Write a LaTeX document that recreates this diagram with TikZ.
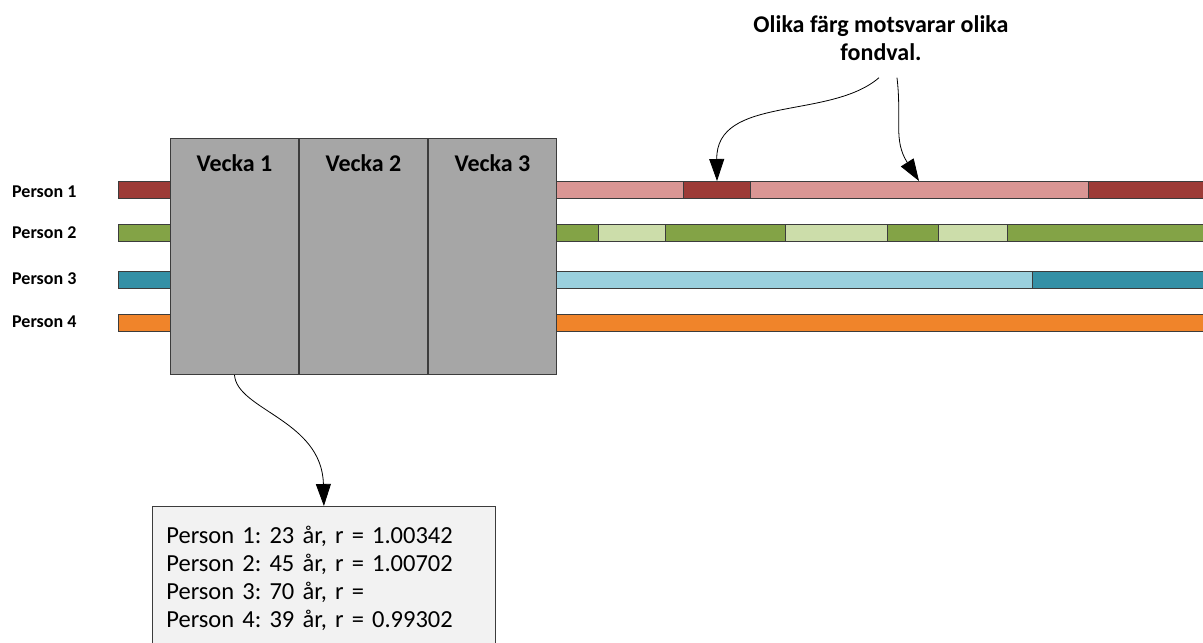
\documentclass[tikz,border=0pt]{standalone}
\usepackage{fontspec}
\setmainfont{Carlito}
\frenchspacing
\usetikzlibrary{arrows.meta}

\definecolor{weekgray}{HTML}{A6A6A6}
\definecolor{edgegray}{HTML}{3C3C3C}
\definecolor{infogray}{HTML}{F2F2F2}
\definecolor{reddark}{HTML}{9D3B37}
\definecolor{redlight}{HTML}{DA9694}
\definecolor{greendark}{HTML}{83A346}
\definecolor{greenlight}{HTML}{CCDDAA}
\definecolor{bluedark}{HTML}{3490A6}
\definecolor{bluelight}{HTML}{9AD0DE}
\definecolor{orangebar}{HTML}{F0842A}

\tikzset{
  week/.style={draw=edgegray, fill=weekgray, line width=1pt, anchor=north west,
    minimum width=128pt, inner xsep=0pt, inner ysep=0pt,
    text height=33pt, text depth=203pt, font=\fontsize{24}{28}\selectfont\bfseries},
  bar/.style={draw=edgegray, line width=0.8pt},
  person/.style={anchor=west, inner sep=0pt, font=\fontsize{18}{22}\selectfont\bfseries},
  note/.style={align=center, inner ysep=17pt, font=\fontsize{24}{28}\selectfont\bfseries},
  info/.style={draw=edgegray, fill=infogray, line width=0.8pt, anchor=north west,
    text width=315pt, align=left, inner xsep=14pt, inner ysep=20pt, text depth=110pt,
    font=\fontsize{24.5}{28}\selectfont},
  pointer/.style={-{Triangle[length=22pt,width=15pt]}, line width=0.8pt},
}

\begin{document}
\begin{tikzpicture}[x=1pt, y=-1pt]
    \useasboundingbox (0,0) rectangle (1203,643);

    % persons
    \node[person] (p1) at (12,192) {Person 1};
    \node[person] (p2) at (12,233) {Person 2};
    \node[person] (p3) at (12,279) {Person 3};
    \node[person] (p4) at (12,322) {Person 4};

    % bars before the weeks
    \draw[bar, fill=reddark] (118,181) rectangle (170,198);
    \draw[bar, fill=greendark] (118,224) rectangle (170,241);
    \draw[bar, fill=bluedark] (118,271) rectangle (170,288);
    \draw[bar, fill=orangebar] (118,314) rectangle (170,331);

    % bars after the weeks
    \draw[bar, fill=redlight] (554,181) rectangle (683,198);
    \draw[bar, fill=reddark] (683,181) rectangle (750,198);
    \draw[bar, fill=redlight] (750,181) rectangle (1088,198);
    \draw[bar, fill=reddark] (1088,181) rectangle (1210,198);

    \draw[bar, fill=greendark] (554,224) rectangle (598,241);
    \draw[bar, fill=greenlight] (598,224) rectangle (665,241);
    \draw[bar, fill=greendark] (665,224) rectangle (785,241);
    \draw[bar, fill=greenlight] (785,224) rectangle (887,241);
    \draw[bar, fill=greendark] (887,224) rectangle (938,241);
    \draw[bar, fill=greenlight] (938,224) rectangle (1007,241);
    \draw[bar, fill=greendark] (1007,224) rectangle (1210,241);

    \draw[bar, fill=bluelight] (554,271) rectangle (1032,288);
    \draw[bar, fill=bluedark] (1032,271) rectangle (1210,288);

    \draw[bar, fill=orangebar] (554,314) rectangle (1210,331);

    % weeks
    \node[week] (vecka1) at (170,138) {Vecka 1};
    \node[week] (vecka2) at (vecka1.north east) {Vecka 2};
    \node[week] (vecka3) at (vecka2.north east) {Vecka 3};

    % fund choices
    \coordinate (fond1) at (717,181);
    \coordinate (fond2) at (919,181);
    \node[note] (note) at (881,38) {Olika färg motsvarar olika\\fondval.};
    \draw[pointer] ([xshift=-2pt]note.south) .. controls (830,120) and (716,95) .. (fond1);
    \draw[pointer] ([xshift=16pt]note.south) .. controls (902,120) and (893,140) .. (fond2);

    % result box
    \node[info] (info) at (152,506) {Person 1: 23 år, r = 1.00342\\Person 2: 45 år, r = 1.00702\\Person 3: 70 år, r = \\Person 4: 39 år, r = 0.99302};
    \draw[pointer] (vecka1.south) .. controls (237,410) and (322,420) .. (info.north);
\end{tikzpicture}
\end{document}
